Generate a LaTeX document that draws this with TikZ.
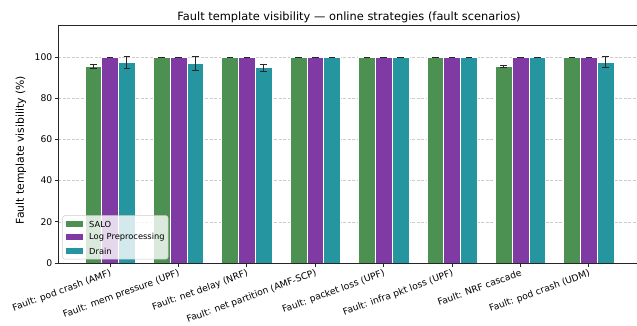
\documentclass[tikz,border=0pt]{standalone}
\usepackage{fontspec}
\setmainfont{DejaVu Sans}
\definecolor{salo}{RGB}{76,145,82}
\definecolor{logpre}{RGB}{127,58,163}
\definecolor{drain}{RGB}{37,149,160}
\tikzset{
  bar/.style={draw=white, line width=0.6pt},
  errbar/.style={draw=black!85, line width=0.8pt},
  gridline/.style={draw=black!20, dash pattern=on 3pt off 1.6pt, line width=0.5pt},
  spine/.style={draw=black!85, line width=0.8pt},
  ticklab/.style={font=\fontsize{9.2}{11}\selectfont, inner sep=1pt},
  leglab/.style={font=\fontsize{8.3}{10}\selectfont, anchor=west, inner sep=0pt},
}

\begin{document}
\begin{tikzpicture}[x=1pt,y=1pt]
    \useasboundingbox (0,0) rectangle (637,325);
    \node[font=\fontsize{11.4}{13}\selectfont] at (349,308) (title) {Fault template visibility — online strategies (fault scenarios)};
    \node[font=\fontsize{10.8}{12}\selectfont, rotate=90] at (21,175) (ylab) {Fault template visibility (\%)};

    \begin{scope}[shift={(0,62)}, y=2.06pt]
    % grid and y ticks
    \foreach \v in {0,20,...,100} {
        \draw[gridline] (58,\v) -- (636,\v);
        \draw[spine] (54.5,\v) -- (58,\v);
        \node[ticklab, anchor=east] at (53.5,\v) (yt\v) {\v};
    }
    % bars: group, SALO, err, Log, err, Drain, err, label
    \foreach \i/\a/\ea/\b/\eb/\c/\ec/\lab in {
        0/95.3/1.0/100/0/97.4/2.9/{Fault: pod crash (AMF)},
        1/100/0/100/0/96.8/3.3/{Fault: mem pressure (UPF)},
        2/100/0/100/0/94.8/1.8/{Fault: net delay (NRF)},
        3/100/0/100/0/100/0/{Fault: net partition (AMF-SCP)},
        4/100/0/100/0/100/0/{Fault: packet loss (UPF)},
        5/100/0/100/0/100/0/{Fault: infra pkt loss (UPF)},
        6/95.3/0.5/100/0/100/0/{Fault: NRF cascade},
        7/100/0/100/0/97.6/2.5/{Fault: pod crash (UDM)}} {
        \pgfmathsetmacro{\gx}{110+68.4*\i}
        \draw[bar, fill=salo] (\gx-25.2,0) rectangle (\gx-8.4,\a);
        \draw[bar, fill=logpre] (\gx-8.4,0) rectangle (\gx+8.4,\b);
        \draw[bar, fill=drain] (\gx+8.4,0) rectangle (\gx+25.2,\c);
        \foreach \dx/\v/\e in {-16.8/\a/\ea, 0/\b/\eb, 16.8/\c/\ec} {
            \draw[errbar] (\gx+\dx,\v-\e) -- (\gx+\dx,\v+\e)
                (\gx+\dx-3.3,\v-\e) -- (\gx+\dx+3.3,\v-\e)
                (\gx+\dx-3.3,\v+\e) -- (\gx+\dx+3.3,\v+\e);
        }
        \draw[spine] (\gx,0) -- (\gx,-1.7);
        \node[ticklab, rotate=20, anchor=north east] at (\gx,-2.2) (xt\i) {\lab};
    }
    % axes frame
    \draw[spine] (58,115.5) -- (58,0) -- (636.5,0);
    \draw[spine] (58,115.5) -- (636.5,115.5);
    \end{scope}

    % legend
    \draw[draw=black!20, fill=white, fill opacity=0.8, rounded corners=2pt, line width=0.5pt] (62.7,66) rectangle (168,109.3);
    \fill[salo] (66,97.7) rectangle (82.7,103.7);
    \fill[logpre] (66,84.7) rectangle (82.7,90.7);
    \fill[drain] (66,71) rectangle (82.7,77);
    \node[leglab] at (89,100.7) (lsalo) {SALO};
    \node[leglab] at (89,87.7) (llog) {Log Preprocessing};
    \node[leglab] at (89,74) (ldrain) {Drain};
\end{tikzpicture}
\end{document}
